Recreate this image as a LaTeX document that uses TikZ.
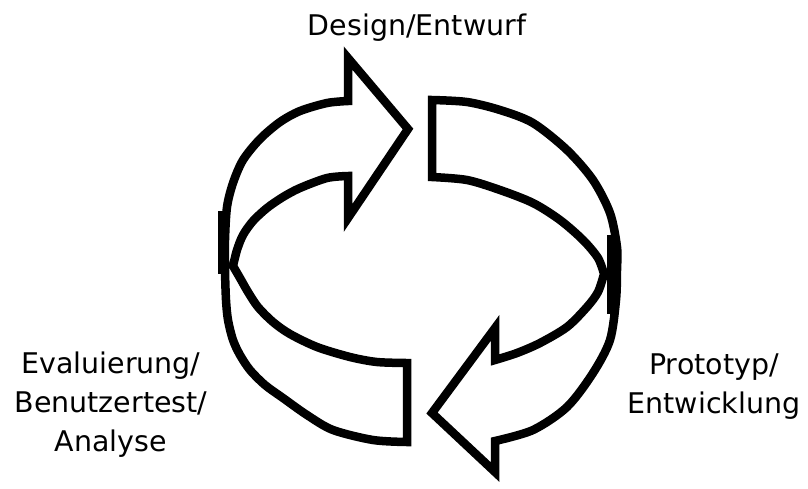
\documentclass[tikz,border=0pt]{standalone}
\usepackage{fontspec}
\newfontfamily\labelfont{DejaVu Sans}
\begin{document}
\begin{tikzpicture}[x={(0.02cm,0)},y={(0,-0.02cm)},
  ring/.style={draw=black,line width=0.17cm,line join=miter,miter limit=20},
  label/.style={align=center,anchor=base,inner sep=0pt,
    font=\labelfont\fontsize{16.2pt}{22.1pt}\selectfont}]
\useasboundingbox (0,0) rectangle (808,488);

% left half of the ring: tail at the bottom, head at the top pointing right
\draw[ring] (407,442) -- (407,363)
  -- plot[smooth] coordinates {(407,363) (377,362) (350,357) (317,347) (290,334)
       (273,322) (258,307) (248,292) (240,278) (233,266)}
  -- plot[smooth] coordinates {(233,266) (237,250) (243,235) (253,221) (267,208)
       (283,197) (300,188) (327,178) (348,176)}
  -- (348,218) -- (408,129) -- (348,58) -- (348,101)
  -- plot[smooth] coordinates {(348,101) (327,103) (300,111) (280,122) (260,139)
       (243,160) (233,183) (227,207) (225,240) (225,270) (226,300) (228,320)
       (233,340) (240,355) (250,370) (265,385) (283,398) (307,415) (333,430)
       (373,440) (407,442)}
  -- cycle;

% right half of the ring: tail at the top, head at the bottom pointing left
\draw[ring] (432,100) -- (432,177)
  -- plot[smooth] coordinates {(432,177) (467,180) (500,190) (533,203) (560,220)
       (583,240) (598,258) (604,274)}
  -- plot[smooth] coordinates {(604,274) (598,292) (587,307) (567,327) (540,343)
       (517,353) (495,360)}
  -- (495,328) -- (432,413) -- (495,472) -- (495,441)
  -- plot[smooth] coordinates {(495,441) (533,430) (567,407) (593,373) (610,340)
       (616,300) (617,270) (617,247) (610,213) (593,180) (567,150) (533,123)
       (500,110) (467,102) (432,100)}
  -- cycle;

% heavier rim where the band is seen edge-on at both sides
\coordinate (lt) at (222,211);
\coordinate (lb) at (222,274);
\coordinate (rt) at (611,235);
\coordinate (rb) at (611,314);
\draw[ring,line cap=butt] (lt) -- (lb);
\draw[ring,line cap=butt] (rt) -- (rb);

\node[label] (design) at (417,35.5) {Design/Entwurf};
\node[label] (proto) at (714,413) {Prototyp/\\Entwicklung};
\node[label] (eval) at (111,451) {Evaluierung/\\Benutzertest/\\Analyse};
\end{tikzpicture}
\end{document}
